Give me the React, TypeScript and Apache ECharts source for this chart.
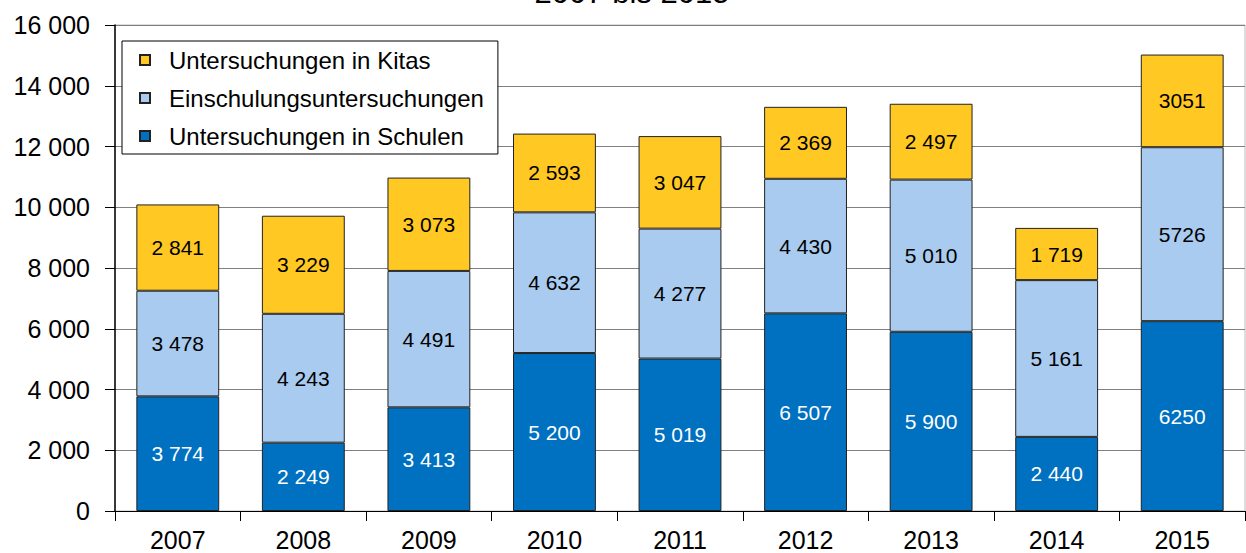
import React, { useEffect, useRef } from "react";
import * as echarts from "echarts";

const categories = ["2007", "2008", "2009", "2010", "2011", "2012", "2013", "2014", "2015"];
const schulen = [3774, 2249, 3413, 5200, 5019, 6507, 5900, 2440, 6250];
const einschulung = [3478, 4243, 4491, 4632, 4277, 4430, 5010, 5161, 5726];
const kitas = [2841, 3229, 3073, 2593, 3047, 2369, 2497, 1719, 3051];
// whether the label of a year uses a thousands separator
const groupedLabel = [true, true, true, true, true, true, true, true, false];
const titleText = "2007 bis 2015";
const seriesNames = ["Untersuchungen in Schulen", "Einschulungsuntersuchungen", "Untersuchungen in Kitas"];

const fmtNum = (v: number) => v.toString().replace(/\B(?=(\d{3})+(?!\d))/g, " ");

export default function App() {
  const ref = useRef<HTMLDivElement>(null);
  useEffect(() => {
    if (!ref.current) return;
    const chart = echarts.init(ref.current, null, { renderer: "svg" });
    const font = "Liberation Sans, Arial, sans-serif";
    const labelFmt = (p: any) => (groupedLabel[p.dataIndex] ? fmtNum(p.value) : String(p.value));
    const mk = (name: string, data: number[], color: string, textColor: string) => ({
      name,
      type: "bar",
      stack: "total",
      data,
      barWidth: "66%",
      itemStyle: { color, borderColor: "#222", borderWidth: 1 },
      label: {
        show: true,
        position: "inside",
        color: textColor,
        fontSize: 21,
        fontFamily: font,
        formatter: labelFmt,
      },
    });
    chart.setOption({
      animation: false,
      backgroundColor: "#fff",
      title: {
        text: titleText,
        left: 627,
        textAlign: "center",
        top: -28,
        textStyle: { fontSize: 31, fontWeight: "normal", color: "#000", fontFamily: font },
      },
      grid: { left: 115, right: 1, top: 25, bottom: 42, show: true, borderColor: "#bbb", borderWidth: 1 },
      legend: {
        orient: "vertical",
        left: 122,
        top: 41,
        data: [seriesNames[2], seriesNames[1], seriesNames[0]],
        backgroundColor: "#fff",
        borderColor: "#000",
        borderWidth: 1,
        padding: [7, 14, 6, 17],
        itemGap: 14,
        itemWidth: 10,
        itemHeight: 10,
        icon: "rect",
        textStyle: { fontSize: 24, color: "#000", fontFamily: font, padding: [0, 0, 0, 14] },
      },
      xAxis: {
        type: "category",
        data: categories,
        axisLine: { lineStyle: { color: "#000", width: 1 } },
        axisTick: { show: true, length: 10, lineStyle: { color: "#000" } },
        axisLabel: { fontSize: 25, color: "#000", fontFamily: font, margin: 16 },
      },
      yAxis: {
        type: "value",
        min: 0,
        max: 16000,
        interval: 2000,
        axisLine: { show: true, lineStyle: { color: "#000", width: 1.5 } },
        axisTick: { show: true, length: 10, lineStyle: { color: "#000" } },
        axisLabel: { fontSize: 25, color: "#000", fontFamily: font, margin: 25, formatter: (v: number) => fmtNum(v) },
        splitLine: { lineStyle: { color: "#808080", width: 1 } },
      },
      series: [
        mk(seriesNames[0], schulen, "#0070C0", "#fff"),
        mk(seriesNames[1], einschulung, "#A8CBEF", "#000"),
        mk(seriesNames[2], kitas, "#FFC823", "#000"),
      ],
    });
    return () => chart.dispose();
  }, []);
  return (
    <div
      ref={ref}
      style={{ position: "fixed", left: 0, top: 0, width: 1246, height: 553, background: "#fff" }}
    />
  );
}
